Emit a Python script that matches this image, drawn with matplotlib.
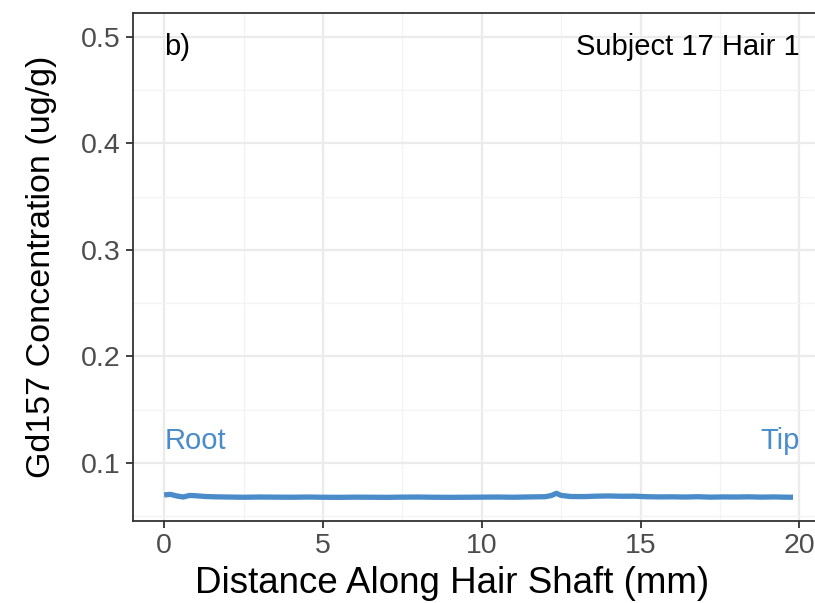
import matplotlib.pyplot as plt
from matplotlib.ticker import MultipleLocator

plt.rcParams["font.family"] = ["Liberation Sans", "DejaVu Sans"]

# values
distance_mm = [0.0, 0.2, 0.4, 0.6, 0.8, 1.0, 1.3, 1.6, 2.0, 2.5, 3.0, 3.5, 4.0,
               4.5, 5.0, 5.5, 6.0, 6.5, 7.0, 7.5, 8.0, 8.5, 9.0, 9.5, 10.0,
               10.5, 11.0, 11.5, 12.0, 12.2, 12.35, 12.5, 12.8, 13.2, 13.6,
               14.0, 14.4, 14.8, 15.2, 15.6, 16.0, 16.4, 16.8, 17.2, 17.6,
               18.0, 18.4, 18.8, 19.2, 19.5, 19.8]
gd157 = [0.0700, 0.0705, 0.0690, 0.0680, 0.0695, 0.0692, 0.0685, 0.0682,
         0.0680, 0.0678, 0.0680, 0.0679, 0.0678, 0.0680, 0.0678, 0.0677,
         0.0679, 0.0678, 0.0677, 0.0679, 0.0680, 0.0678, 0.0677, 0.0678,
         0.0679, 0.0680, 0.0678, 0.0681, 0.0683, 0.0695, 0.0715, 0.0695,
         0.0685, 0.0684, 0.0688, 0.0690, 0.0687, 0.0688, 0.0683, 0.0681,
         0.0682, 0.0680, 0.0683, 0.0679, 0.0681, 0.0680, 0.0682, 0.0679,
         0.0681, 0.0679, 0.0678]

x_ticks = [0, 5, 10, 15, 20]
y_ticks = [0.1, 0.2, 0.3, 0.4, 0.5]

blue = "#4a8cca"

fig = plt.figure(figsize=(8.15, 6.03), dpi=100)
ax = fig.add_axes([0.1632, 0.136, 0.848, 0.8424])

ax.plot(distance_mm, gd157, color=blue, lw=3.8, solid_capstyle="butt")

ax.set_xlim(-0.98, 20.78)
ax.set_ylim(0.0455, 0.5225)
ax.set_xticks(x_ticks)
ax.set_yticks(y_ticks)
ax.set_xticklabels([str(t) for t in x_ticks])
ax.set_yticklabels([f"{t:.1f}" for t in y_ticks])
ax.xaxis.set_minor_locator(MultipleLocator(2.5))
ax.yaxis.set_minor_locator(MultipleLocator(0.05))

ax.grid(which="major", color="#ebebeb", lw=1.6)
ax.grid(which="minor", color="#f3f3f3", lw=0.9)
ax.set_axisbelow(True)
ax.tick_params(which="major", length=5, width=1.3, color="#333333",
               labelsize=20.5, labelcolor="#4d4d4d", pad=4)
ax.tick_params(which="minor", length=0)
for s in ax.spines.values():
    s.set_color("#333333")
    s.set_linewidth(1.3)

ax.set_xlabel("Distance Along Hair Shaft (mm)", fontsize=26.5, color="black")
ax.set_ylabel("Gd157 Concentration (ug/g)", fontsize=24.5, color="black")
ax.xaxis.set_label_coords(0.4617, -0.088)
ax.yaxis.set_label_coords(-0.11, 0.5)

ax.text(0, 0.121, "Root", color=blue, fontsize=21, ha="left", va="center")
ax.text(20, 0.121, "Tip", color=blue, fontsize=21, ha="right", va="center")
ax.text(0, 0.491, "b)", color="black", fontsize=21, ha="left", va="center")
ax.text(20, 0.491, "Subject 17 Hair 1", color="black", fontsize=21,
        ha="right", va="center")

fig.savefig("out.png", dpi=100)
